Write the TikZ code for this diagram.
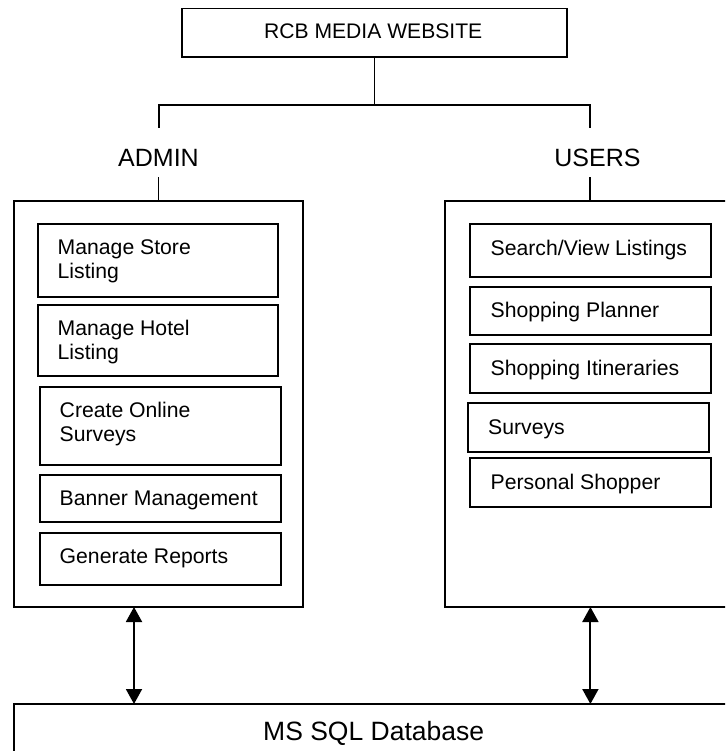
\documentclass[tikz,border=0pt]{standalone}
\usepackage{fontspec}
\setmainfont{Liberation Sans}
\usetikzlibrary{arrows.meta,fit}

\tikzset{
  frame/.style={draw, line width=1.9pt, inner sep=0pt, outer sep=0pt},
  wire/.style={line width=1.9pt},
  dbl/.style={line width=1.9pt, {Triangle[length=15pt,width=16pt]}-{Triangle[length=15pt,width=16pt]}},
  itext/.style={anchor=base west, inner sep=0pt, align=left,
                font=\fontsize{21.2}{24}\selectfont},
  head/.style={anchor=base, inner sep=0pt, font=\fontsize{25}{30}\selectfont},
}

\begin{document}
\begin{tikzpicture}[x=1pt, y=-1pt]
  \clip (0,0) rectangle (725,751);
  \fill[white] (0,0) rectangle (725,751);

  % site root
  \node[frame, fit={(182,8.5) (567,56.7)}] (top) {};
  \node[anchor=base west, inner sep=0pt, font=\fontsize{21.1}{24}\selectfont] (toptxt) at (264,39) {RCB MEDIA WEBSITE};

  % role headings
  \node[head] (admin) at (158.5,166.7) {ADMIN};
  \node[head] (users) at (597.5,166.7) {USERS};

  % role panels
  \node[frame, fit={(14,200.7) (303,607)}] (adminbox) {};
  \node[frame, fit={(445,200.7) (760,607)}] (usersbox) {};

  % database
  \node[frame, fit={(14,704) (760,790)}] (db) {};
  \node[anchor=base west, inner sep=0pt, font=\fontsize{26.5}{30}\selectfont] (dbtxt) at (263,740) {MS SQL Database};

  % tree from the root to the two roles
  \coordinate (split) at (374.5,104.7);
  \coordinate (aTop) at (158.6,127.7);
  \coordinate (uTop) at (590.4,127.7);
  \coordinate (aBot) at (158.5,177.3);
  \coordinate (uBot) at (590.4,177.3);
  \draw[wire] (top.south -| split) -- (split);
  \draw[wire] (aTop) |- (split) -| (uTop);
  \draw[wire] (aBot) -- (aBot |- adminbox.north);
  \draw[wire] (uBot) -- (uBot |- usersbox.north);

  % admin functions (two-line labels sit on the baseline of their last line)
  \node[frame, fit={(38,224) (278,297)}] (ms) {};
  \node[itext] (mst) at (57.5,278.3) {Manage Store\\Listing};
  \node[frame, fit={(38,305) (278,376)}] (mh) {};
  \node[itext] (mht) at (57.5,359.2) {Manage Hotel\\Listing};
  \node[frame, fit={(40,387) (281,465)}] (co) {};
  \node[itext] (cot) at (59.5,441.2) {Create Online\\Surveys};
  \node[frame, fit={(40,475) (281,522)}] (bm) {};
  \node[itext] (bmt) at (59.5,505.5) {Banner Management};
  \node[frame, fit={(40,533) (281,585)}] (gr) {};
  \node[itext] (grt) at (59.5,563.2) {Generate Reports};

  % user functions
  \node[frame, fit={(470,224) (711,277)}] (sv) {};
  \node[itext] (svt) at (490.5,255.5) {Search/View Listings};
  \node[frame, fit={(470,287) (711,335)}] (sp) {};
  \node[itext] (spt) at (490.5,317.2) {Shopping Planner};
  \node[frame, fit={(470,344) (711,393)}] (si) {};
  \node[itext] (sit) at (490.5,375.5) {Shopping Itineraries};
  \node[frame, fit={(468,403) (709,452)}] (su) {};
  \node[itext] (sut) at (488,434.5) {Surveys};
  \node[frame, fit={(470,458) (711,507)}] (ps) {};
  \node[itext] (pst) at (490.5,489.5) {Personal Shopper};

  % links to the database
  \coordinate (la) at (134,0);
  \coordinate (ra) at (590.4,0);
  \draw[dbl] (la |- adminbox.south) -- (la |- db.north);
  \draw[dbl] (ra |- usersbox.south) -- (ra |- db.north);
\end{tikzpicture}
\end{document}
